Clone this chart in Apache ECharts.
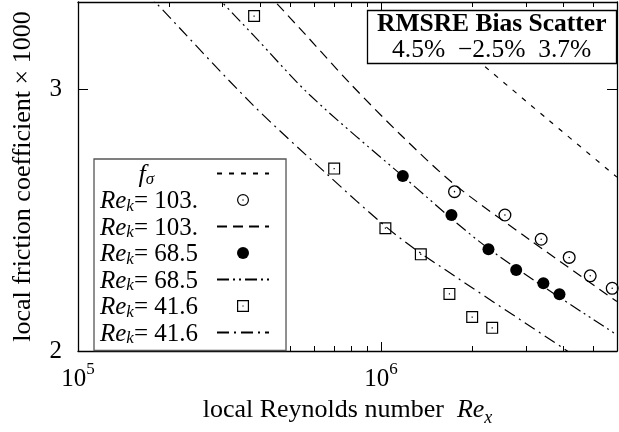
<!DOCTYPE html>
<html><head><meta charset="utf-8">
<script src="https://cdn.jsdelivr.net/npm/echarts@6/dist/echarts.min.js"></script>
<style>html,body{margin:0;padding:0;background:#fff}#c{width:619px;height:432px}</style>
</head><body><div id="c"></div>
<script>
// ---- data ----
const fSigmaX = [1.451e6, 2.204e6, 3.613e6, 5.998e6];
const fSigmaY = [3.338, 3.106, 2.854, 2.618];

const data103X = [1.746e6, 2.561e6, 3.373e6, 4.173e6, 4.896e6, 5.785e6];
const data103Y = [2.560, 2.469, 2.378, 2.312, 2.247, 2.204];
const fit103X = [4.173e5, 4.527e5, 5.613e5, 7.902e5, 1.155e6, 1.741e6, 3.101e6, 5.998e6];
const fit103Y = [3.486, 3.426, 3.267, 3.027, 2.798, 2.590, 2.375, 2.159];

const data68X = [1.179e6, 1.706e6, 2.26e6, 2.79e6, 3.43e6, 3.876e6];
const data68Y = [2.623, 2.469, 2.341, 2.267, 2.221, 2.184];
const fit68X = [2.781e5, 3.016e5, 3.789e5, 5.83e5, 1.179e6, 2.255e6, 6.01e6];
const fit68Y = [3.486, 3.426, 3.262, 2.972, 2.622, 2.345, 2.050];

const data41X = [3.81e5, 7.0e5, 1.033e6, 1.352e6, 1.68e6, 1.997e6, 2.325e6];
const data41Y = [3.360, 2.653, 2.419, 2.323, 2.185, 2.108, 2.073];
const fit41X = [1.683e5, 1.818e5, 3.724e5, 6.686e5, 1.031e6, 1.352e6, 4.10e6, 4.54e6];
const fit41Y = [3.486, 3.426, 2.936, 2.626, 2.427, 2.327, 2.001, 1.972];

const xMajorTicks = [1e5, 1e6];
const xMinorTicks = [2e5, 3e5, 4e5, 5e5, 6e5, 7e5, 8e5, 9e5, 2e6, 3e6, 4e6, 5e6, 6e6];
const yTicks = [3];
const yLabels = [2, 3];
const legendLabels = {
  fs: '{fi|f}{sub|σ}{e2| }',
  d103: '{i|Re}{sub|k}{n|= 103.}{e| }',
  f103: '{i|Re}{sub|k}{n|= 103.}{e| }',
  d68: '{i|Re}{sub|k}{n|= 68.5}{e| }',
  f68: '{i|Re}{sub|k}{n|= 68.5}{e| }',
  d41: '{i|Re}{sub|k}{n|= 41.6}{e| }',
  f41: '{i|Re}{sub|k}{n|= 41.6}{e| }'
};
const statsHeader = 'RMSRE Bias Scatter';
const statsValues = '4.5%  \u22122.5%  3.7%';

// ---- helpers ----
const zip = (xs, ys) => xs.map((x, i) => [x, ys[i]]);
const FONT = 'Liberation Serif';
const K = '#000';
const ringDot = 'path://M0,-6A6,6 0 1 1 0,6A6,6 0 1 1 0,-6Z M0,-4.8A4.8,4.8 0 1 0 0,4.8A4.8,4.8 0 1 0 0,-4.8Z M0,-0.7A0.7,0.7 0 1 1 0,0.7A0.7,0.7 0 1 1 0,-0.7Z';
const squareDot = 'path://M-6,-6H6V6H-6Z M-4.8,-4.8V4.8H4.8V-4.8Z M-0.6,-0.6H0.6V0.6H-0.6Z';

const lineSeries = (name, xs, ys, dash) => ({
  name, type: 'line', data: zip(xs, ys), symbol: 'none', smooth: 0.3,
  lineStyle: { color: K, width: 1.2, type: dash }, itemStyle: { color: 'rgba(0,0,0,0)' }, z: 2
});
const scatterSeries = (name, xs, ys, symbol, size) => ({
  name, type: 'scatter', data: zip(xs, ys), symbol, symbolSize: size,
  itemStyle: { color: K, opacity: 1 }, z: 3
});

const xBase = (pos, ticks, len, showLine) => ({
  type: 'log', logBase: 10, min: 1e5, max: 6e6, position: pos,
  axisLine: { show: showLine, onZero: false, lineStyle: { color: K, width: 1.3 } },
  axisTick: { show: true, inside: true, length: len, customValues: ticks, lineStyle: { color: K, width: 1 } },
  axisLabel: { show: false }, splitLine: { show: false }, minorTick: { show: false }
});

const xMain = xBase('bottom', xMinorTicks, 5, true);
xMain.axisLabel = {
  show: true, customValues: xMajorTicks, margin: 10,
  formatter: v => '{n|10}{s|' + Math.round(Math.log10(v)) + '}',
  rich: {
    n: { fontFamily: FONT, fontSize: 25, color: K, lineHeight: 26, padding: [6, 0, 0, 0], verticalAlign: 'top' },
    s: { fontFamily: FONT, fontSize: 17, color: K, lineHeight: 17, verticalAlign: 'top' }
  }
};
xMain.name = 'local Reynolds number  {i|Re}{sub|x}';
xMain.nameLocation = 'middle';
xMain.nameGap = 46;
xMain.nameTextStyle = {
  fontFamily: FONT, fontSize: 26, color: K, lineHeight: 27, verticalAlign: 'top',
  rich: {
    i: { fontFamily: FONT, fontStyle: 'italic', fontSize: 26, color: K, lineHeight: 27, verticalAlign: 'top' },
    sub: { fontFamily: FONT, fontStyle: 'italic', fontSize: 18, color: K, lineHeight: 18, padding: [12, 0, 0, 0], verticalAlign: 'top' }
  }
};

const yBase = (pos, showLabel) => ({
  type: 'log', logBase: 10, min: 2, max: 3.434, position: pos,
  axisLine: { show: true, onZero: false, lineStyle: { color: K, width: 1.3 } },
  axisTick: { show: true, inside: true, length: 10, customValues: yTicks, lineStyle: { color: K, width: 1 } },
  axisLabel: showLabel ? { show: true, customValues: yLabels, margin: 16, fontFamily: FONT, fontSize: 25, color: K } : { show: false },
  splitLine: { show: false }, minorTick: { show: false }
});
const yMain = yBase('left', true);
yMain.name = 'local friction coefficient \u00d7 1000';
yMain.nameLocation = 'middle';
yMain.nameGap = 42;
yMain.nameTextStyle = { fontFamily: FONT, fontSize: 26, color: K };

const chart = echarts.init(document.getElementById('c'), null, { renderer: 'canvas' });
chart.setOption({
  animation: false,
  backgroundColor: '#fff',
  grid: { left: 78, right: 2, top: 2, bottom: 81, containLabel: false },
  xAxis: [xMain, xBase('bottom', xMajorTicks, 9, false), xBase('top', xMinorTicks, 5, true), xBase('top', xMajorTicks, 9, false)],
  yAxis: [yMain, yBase('right', false)],
  title: {
    text: '{b|' + statsHeader + '}\n{n|' + statsValues + '}',
    left: 367, top: 10, padding: [1, 10, 1, 10],
    borderColor: K, borderWidth: 1.3, backgroundColor: '#fff',
    textStyle: {
      fontWeight: 'normal',
      rich: {
        b: { fontFamily: FONT, fontWeight: 'bold', fontSize: 25.5, color: K, lineHeight: 26, align: 'center' },
        n: { fontFamily: FONT, fontWeight: 'normal', fontSize: 25.5, color: K, lineHeight: 26, align: 'center' }
      }
    }
  },
  legend: {
    orient: 'vertical', left: 94, top: 159, align: 'right',
    padding: [2, 16, 3, 6], itemGap: -1, itemWidth: 52, itemHeight: 12,
    borderColor: '#555', borderWidth: 1.3, backgroundColor: '#fff',
    data: ['fs', 'd103', 'f103', 'd68', 'f68', 'd41', 'f41'],
    formatter: n => legendLabels[n],
    textStyle: {
      fontFamily: FONT, fontSize: 25, color: K,
      rich: {
        e: { width: 14, fontSize: 25, lineHeight: 22 },
        e2: { width: 58, fontSize: 25, lineHeight: 22 },
        fi: { fontFamily: FONT, fontStyle: 'italic', fontSize: 26, color: K, lineHeight: 22, verticalAlign: 'top' },
        i: { fontFamily: FONT, fontStyle: 'italic', fontSize: 25, color: K, lineHeight: 22, verticalAlign: 'top' },
        n: { fontFamily: FONT, fontSize: 25, color: K, lineHeight: 22, verticalAlign: 'top' },
        sub: { fontFamily: FONT, fontStyle: 'italic', fontSize: 17, color: K, lineHeight: 17, padding: [9, 0, 0, 0], verticalAlign: 'top' }
      }
    }
  },
  series: [
    lineSeries('fs', fSigmaX, fSigmaY, [5, 7]),
    scatterSeries('d103', data103X, data103Y, ringDot, 13),
    lineSeries('f103', fit103X, fit103Y, [10, 6]),
    scatterSeries('d68', data68X, data68Y, 'circle', 12),
    lineSeries('f68', fit68X, fit68Y, [12, 4, 2, 4, 2, 4]),
    scatterSeries('d41', data41X, data41Y, squareDot, 12),
    lineSeries('f41', fit41X, fit41Y, [12, 5, 2, 5])
  ]
});
</script>
</body></html>
